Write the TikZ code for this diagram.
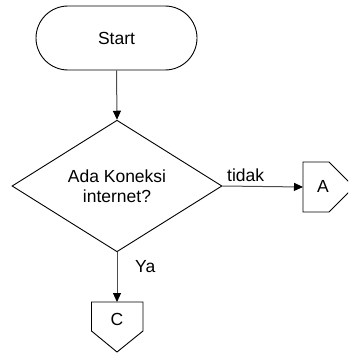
\documentclass[tikz,border=0pt]{standalone}
\usepackage{fontspec}
\setmainfont{Liberation Sans}
\usetikzlibrary{arrows.meta,shapes.geometric,shapes.misc}
\begin{document}
\begin{tikzpicture}[x=1pt,y=-1pt,
  shapeline/.style={draw=black, line width=0.9pt},
  conn/.style={draw=black!70, line width=1pt, -{Triangle[length=9pt,width=8pt,color=black]}},
  txt/.style={font=\fontsize{17.5}{20.5}\selectfont, inner sep=0pt, align=center}]
\useasboundingbox (0,0) rectangle (348,353);
\clip (0,0) rectangle (348,353);
% Start terminal
\node[shapeline, txt, rounded rectangle, minimum width=161pt, minimum height=64pt] (start) at (116.5,38) {Start};
% Decision
\node[shapeline, txt, diamond, minimum width=210pt, minimum height=130pt] (dia) at (117,186) {Ada Koneksi\\internet?};
% Off-page connector A
\coordinate (Aleft) at (303,187);
\draw[shapeline] (303,162) -- (329,162) -- (354,187) -- (329,212) -- (303,212) -- cycle;
\node[txt] (A) at (323,186) {A};
% Off-page connector C
\coordinate (Ctop) at (117,302);
\draw[shapeline] (91.5,302) -- (143,302) -- (143,331) -- (117,352) -- (91.5,331) -- cycle;
\node[txt] (C) at (117,319) {C};
% Connectors
\draw[conn] (start.south) -- (dia.north);
\draw[conn] (dia.east) -- (Aleft);
\draw[conn] (dia.south) -- (Ctop);
% Labels
\node[txt, anchor=base west] (tidak) at (227,181.5) {tidak};
\node[txt, anchor=west] (ya) at (135,266.5) {Ya};
\end{tikzpicture}
\end{document}
